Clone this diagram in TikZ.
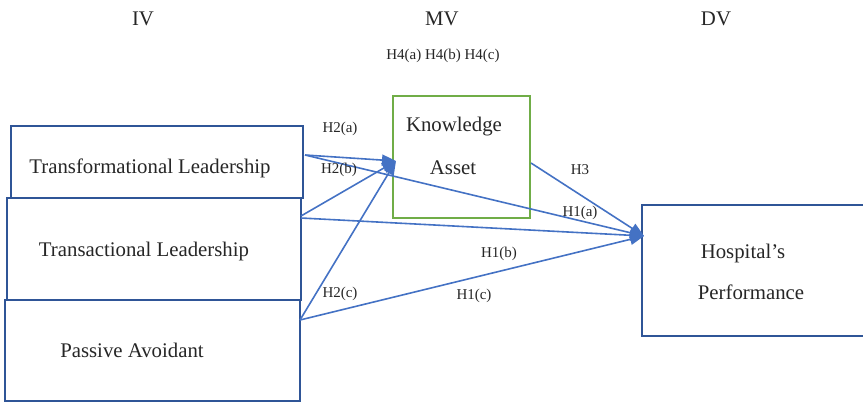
\documentclass[tikz,border=0pt]{standalone}
\usepackage{fontspec}
\setmainfont{Liberation Serif}
\usetikzlibrary{arrows.meta}
\definecolor{boxblue}{HTML}{2F5597}
\definecolor{arrblue}{HTML}{4472C4}
\definecolor{kgreen}{HTML}{70AD47}
\definecolor{txt}{HTML}{262626}
\tikzset{
  box/.style={draw=boxblue, line width=1.9pt},
  gbox/.style={draw=kgreen, line width=1.9pt},
  big/.style={text=txt, font=\fontsize{20.8}{24}\selectfont, inner sep=0pt},
  small/.style={text=txt, font=\fontsize{15}{17}\selectfont, inner sep=0pt},
  arr/.style={draw=arrblue, line width=1.6pt, -{Triangle[length=14pt,width=11pt]}},
}
\begin{document}
\begin{tikzpicture}[x=1pt,y=-1pt]
\useasboundingbox (0,0) rectangle (863,402);
% boxes
\draw[box] (11,126) rectangle (303,198);
\draw[box] (7,198) rectangle (301,300);
\draw[box] (5,300) rectangle (300,401);
\draw[gbox] (393,96) rectangle (530,218);
\draw[box] (642,205) rectangle (870,336);
% box anchor nodes
\node[inner sep=0pt, minimum width=292pt, minimum height=72pt] (tl) at (157,162) {};
\node[inner sep=0pt, minimum width=294pt, minimum height=102pt] (tr) at (154,249) {};
\node[inner sep=0pt, minimum width=295pt, minimum height=101pt] (pa) at (152.5,350.5) {};
\node[inner sep=0pt, minimum width=137pt, minimum height=122pt] (ka) at (461.5,157) {};
\node[inner sep=0pt, minimum width=228pt, minimum height=131pt] (hp) at (756,270.5) {};
% headers
\node[big] (iv) at (143,19) {IV};
\node[big] (mv) at (442,19) {MV};
\node[big] (dv) at (716,19) {DV};
\node[small] (h4) at (443,56) {H4(a) H4(b) H4(c)};
% box texts
\node[big] (t1) at (150,168) {Transformational Leadership};
\node[big] (t2) at (144,251) {Transactional Leadership};
\node[big] (t3) at (132,350) {Passive Avoidant};
\node[big] (t4) at (454,127) {Knowledge};
\node[big] (t5) at (453,168) {Asset};
\node[big] (t6) at (743,253) {Hospital’s};
\node[big] (t7) at (751,292) {Performance};
% connector end points
\coordinate (tlA) at (305,155);
\coordinate (trA) at (301,216);
\coordinate (trB) at (301,218);
\coordinate (paA) at (300,320);
\coordinate (kaIn) at (396,161);
\coordinate (kaOut) at (531,163);
\coordinate (hpIn) at (644,236);
% arrows to KA
\draw[arr] (tlA) -- (kaIn);
\draw[arr] (trA) -- (kaIn);
\draw[arr] (paA) -- (kaIn);
% arrows to HP
\draw[arr] (tlA) -- (hpIn);
\draw[arr] (trB) -- (hpIn);
\draw[arr] (paA) -- (hpIn);
\draw[arr] (kaOut) -- (hpIn);
% labels
\node[small] (h2a) at (340,129) {H2(a)};
\node[small] (h2b) at (339,170) {H2(b)};
\node[small] (h2c) at (340,294) {H2(c)};
\node[small] (h3) at (580,170) {H3};
\node[small] (h1a) at (580,213) {H1(a)};
\node[small] (h1b) at (499,254) {H1(b)};
\node[small] (h1c) at (474,296) {H1(c)};
\end{tikzpicture}
\end{document}
